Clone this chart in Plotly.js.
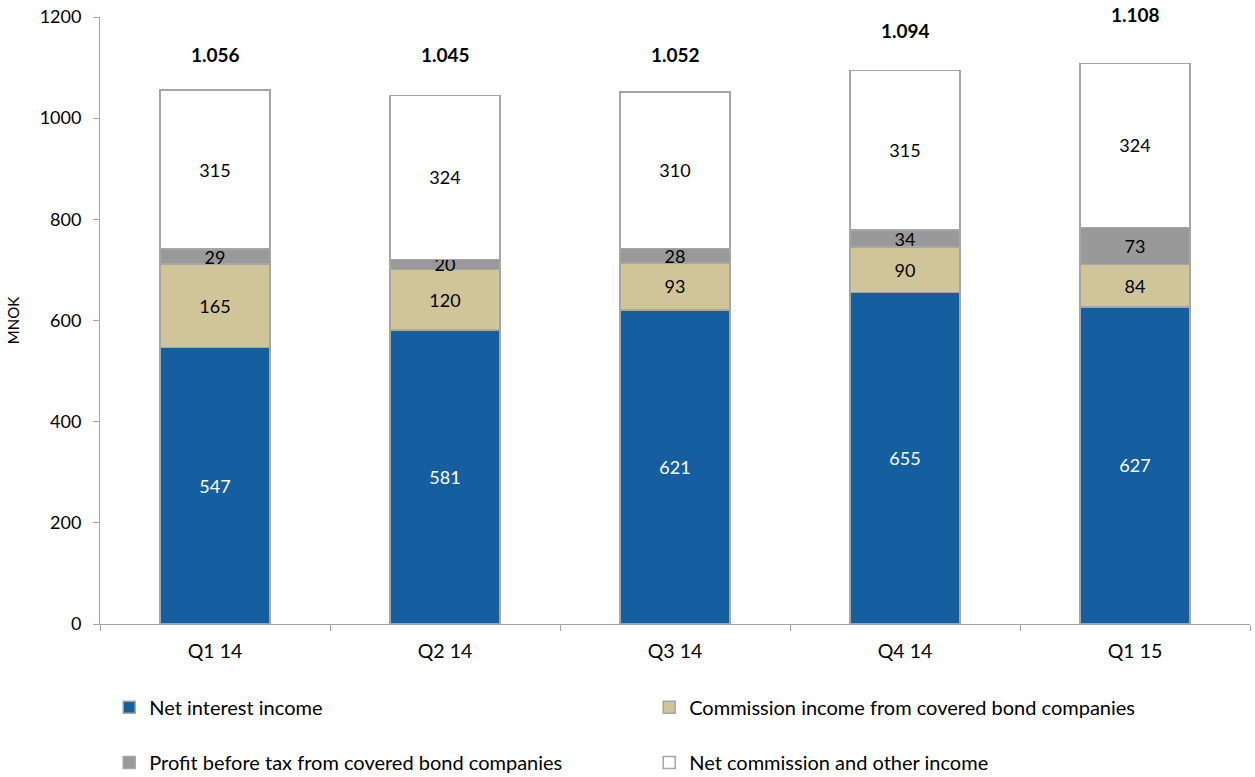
<!DOCTYPE html>
<html>
<head>
<meta charset="utf-8">
<script src="https://cdn.plot.ly/plotly-3.0.1.min.js"></script>
<style>html,body{margin:0;padding:0;background:#fff;}#chart{width:1255px;height:777px;}</style>
</head>
<body>
<div id="chart"></div>
<script>
const categories = ['Q1 14', 'Q2 14', 'Q3 14', 'Q4 14', 'Q1 15'];
const netInterest = [547, 581, 621, 655, 627];
const commissionCovered = [165, 120, 93, 90, 84];
const profitCovered = [29, 20, 28, 34, 73];
const netCommissionOther = [315, 324, 310, 315, 324];
const totalLabelPos = [1125, 1125, 1125, 1174, 1204];
const yTicks = [0, 200, 400, 600, 800, 1000, 1200];
const yMax = 1200;

const totals = categories.map((c, i) => netInterest[i] + commissionCovered[i] + profitCovered[i] + netCommissionOther[i]);
const fmt = v => { const s = String(v); return s.length > 3 ? s.slice(0, s.length - 3) + '.' + s.slice(-3) : s; };

const FONT = 'Lato, "Open Sans", sans-serif';
const edge = {color: '#a6a6a6', width: 1.5};

function barTrace(name, vals, color, textColor, legend) {
  return {
    type: 'bar', name: name, x: categories, y: vals,
    marker: {color: color, line: edge},
    text: vals.map(String), textposition: 'inside', insidetextanchor: 'middle', textangle: 0,
    textfont: {family: FONT, size: 18, color: textColor},
    width: 0.48, legend: legend, hoverinfo: 'skip', cliponaxis: false
  };
}

const data = [
  barTrace('Net interest income', netInterest, '#155fa0', '#ffffff', 'legend'),
  barTrace('Commission income from covered bond companies', commissionCovered, '#d0c499', '#000000', 'legend'),
  barTrace('Profit before tax from covered bond companies', profitCovered, '#999999', '#000000', 'legend2'),
  barTrace('Net commission and other income', netCommissionOther, '#ffffff', '#000000', 'legend2')
];

const annotations = categories.map((c, i) => ({
  x: c, y: totalLabelPos[i] / yMax, xref: 'x', yref: 'paper',
  xanchor: 'center', yanchor: 'middle',
  text: '<b>' + fmt(totals[i]) + '</b>', showarrow: false,
  font: {family: FONT, size: 19, color: '#000'}
}));

const legendBase = {
  orientation: 'h', xanchor: 'left', yanchor: 'middle',
  font: {family: FONT, size: 20, color: '#000'},
  entrywidth: 495, entrywidthmode: 'pixels', itemwidth: 30,
  bgcolor: 'rgba(0,0,0,0)', traceorder: 'normal', itemclick: false
};

const layout = {
  width: 1255, height: 777,
  margin: {l: 100, r: 5, t: 17, b: 153, autoexpand: false},
  paper_bgcolor: '#fff', plot_bgcolor: '#fff',
  barmode: 'stack',
  showlegend: true,
  uniformtext: {mode: 'show', minsize: 18},
  font: {family: FONT, size: 18, color: '#000'},
  annotations: annotations,
  xaxis: {
    type: 'category', showline: true, linecolor: '#a6a6a6', linewidth: 1,
    ticks: 'outside', tickson: 'boundaries', ticklen: 6, tickcolor: '#a6a6a6',
    ticklabelstandoff: 10,
    tickfont: {family: FONT, size: 19.5, color: '#000'}, showgrid: false, zeroline: false,
    fixedrange: true
  },
  yaxis: {
    range: [0, yMax], tickvals: yTicks, showline: true, linecolor: '#a6a6a6', linewidth: 1,
    ticks: 'outside', ticklen: 6, tickcolor: '#a6a6a6', showgrid: false, zeroline: false,
    ticklabelstandoff: 8,
    tickfont: {family: FONT, size: 18, color: '#000'},
    title: {text: 'MNOK', font: {family: FONT, size: 15, color: '#000'}, standoff: 16},
    fixedrange: true
  },
  legend: Object.assign({}, legendBase, {x: 0.008, y: -0.137}),
  legend2: Object.assign({}, legendBase, {x: 0.008, y: -0.228})
};

Plotly.newPlot('chart', data, layout, {displayModeBar: false, staticPlot: true});
</script>
</body>
</html>
